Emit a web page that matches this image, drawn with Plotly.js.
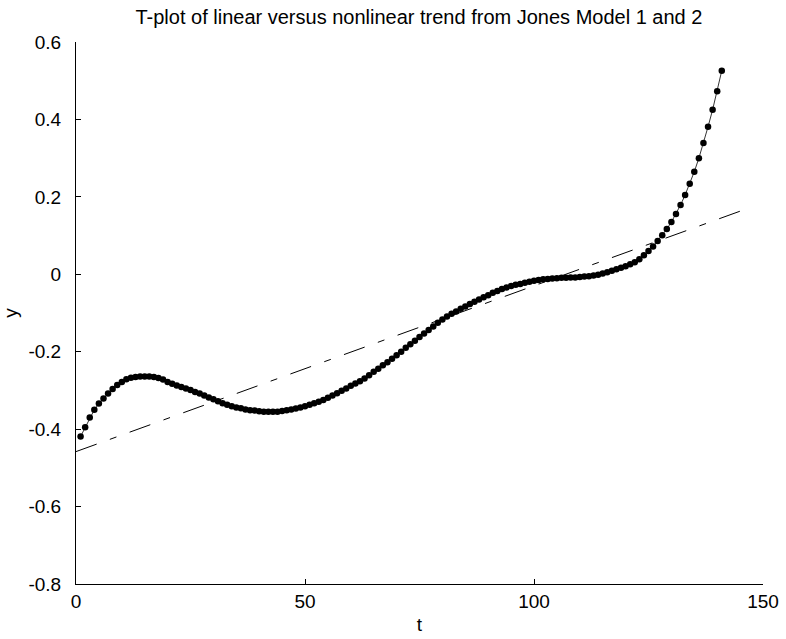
<!DOCTYPE html>
<html>
<head>
<meta charset="utf-8">
<script src="https://cdn.plot.ly/plotly-3.0.1.min.js"></script>
<style>html,body{margin:0;padding:0;background:#fff;}#chart{width:786px;height:639px;}</style>
</head>
<body>
<div id="chart"></div>
<script>
// Nonlinear trend (dots), t = 1..141
var nonlinearY = [
 -0.419,-0.395,-0.370,-0.350,-0.334,-0.321,-0.308,-0.296,-0.286,-0.278,
 -0.271,-0.267,-0.265,-0.264,-0.264,-0.264,-0.265,-0.268,-0.272,-0.278,
 -0.283,-0.287,-0.291,-0.295,-0.299,-0.304,-0.308,-0.313,-0.318,-0.323,
 -0.328,-0.333,-0.337,-0.341,-0.344,-0.346,-0.349,-0.351,-0.352,-0.354,
 -0.355,-0.355,-0.355,-0.355,-0.353,-0.351,-0.349,-0.347,-0.344,-0.341,
 -0.337,-0.333,-0.329,-0.325,-0.319,-0.313,-0.307,-0.301,-0.295,-0.288,
 -0.282,-0.276,-0.269,-0.261,-0.252,-0.244,-0.235,-0.227,-0.218,-0.209,
 -0.200,-0.190,-0.181,-0.172,-0.162,-0.153,-0.144,-0.135,-0.125,-0.117,
 -0.109,-0.102,-0.096,-0.089,-0.083,-0.077,-0.071,-0.065,-0.059,-0.054,
 -0.048,-0.043,-0.038,-0.034,-0.030,-0.027,-0.025,-0.022,-0.019,-0.017,
 -0.015,-0.013,-0.012,-0.011,-0.010,-0.009,-0.009,-0.008,-0.008,-0.007,
 -0.006,-0.005,-0.003,-0.001,0.002,0.005,0.009,0.013,0.017,0.021,
 0.026,0.031,0.039,0.049,0.060,0.072,0.086,0.101,0.117,0.135,
 0.156,0.179,0.205,0.234,0.265,0.300,0.339,0.381,0.425,0.473,
 0.526
];
var nonlinearT = nonlinearY.map(function(_, i){ return i + 1; });

// Linear trend (dash-dot line) end points
var linearT = [0, 145];
var linearY = [-0.458, 0.163];

// Tick labels
var xTickVals = [0, 50, 100, 150];
var xTickText = ["0", "50", "100", "150"];
var yTickVals = [0.6, 0.4, 0.2, 0, -0.2, -0.4, -0.6, -0.8];
var yTickText = ["0.6", "0.4", "0.2", "0", "-0.2", "-0.4", "-0.6", "-0.8"];

var fam = "Liberation Sans, Arial, sans-serif";
var tickFont = {family: fam, size: 19, color: "#000"};
var titleFont = {family: fam, size: 20, color: "#000"};

var traces = [
  {
    x: linearT, y: linearY, mode: "lines", type: "scatter",
    line: {color: "#000", width: 1, dash: "22px,14px,7px,14px"},
    hoverinfo: "skip"
  },
  {
    x: nonlinearT, y: nonlinearY, mode: "lines+markers", type: "scatter",
    line: {color: "#000", width: 0.8},
    marker: {color: "#000", size: 6.5}
  }
];

var layout = {
  width: 786, height: 639,
  margin: {l: 76, r: 23, t: 42, b: 55},
  paper_bgcolor: "#fff", plot_bgcolor: "#fff",
  showlegend: false,
  font: tickFont,
  title: {text: "T-plot of linear versus nonlinear trend from Jones Model 1 and 2",
          font: titleFont, x: 0.533, xanchor: "center", y: 0.974, yanchor: "middle"},
  xaxis: {
    range: [0, 150], tickvals: xTickVals, ticktext: xTickText,
    showline: true, linecolor: "#000", linewidth: 1, mirror: false,
    ticks: "inside", ticklen: 5, tickcolor: "#000", showgrid: false, zeroline: false,
    tickfont: tickFont, title: {text: "t", font: tickFont, standoff: 6}
  },
  yaxis: {
    range: [-0.8, 0.6], tickvals: yTickVals, ticktext: yTickText,
    showline: true, linecolor: "#000", linewidth: 1, mirror: false,
    ticks: "inside", ticklen: 5, tickcolor: "#000", showgrid: false, zeroline: false,
    ticklabelstandoff: 10,
    tickfont: tickFont, title: {text: "y", font: tickFont, standoff: 10}
  }
};

Plotly.newPlot("chart", traces, layout, {displayModeBar: false, staticPlot: true});
</script>
</body>
</html>
